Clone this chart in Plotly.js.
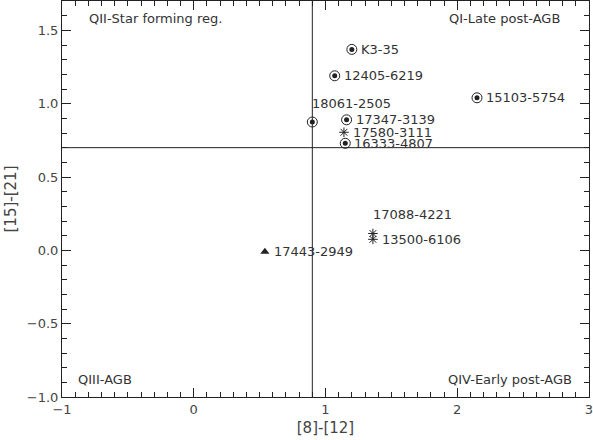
<!DOCTYPE html>
<html>
<head>
<meta charset="utf-8">
<script src="https://cdn.plot.ly/plotly-3.0.1.min.js"></script>
<style>
  html, body { margin: 0; padding: 0; background: #fff; }
  #plot { width: 593px; height: 440px; }
</style>
</head>
<body>
<div id="plot"></div>
<script>
// circled sources (dot inside a ring)
const ringNames = ['K3-35', '12405-6219', '15103-5754', '18061-2505', '17347-3139', '16333-4807'];
const ringX = [1.20, 1.07, 2.15, 0.90, 1.16, 1.15];
const ringY = [1.37, 1.19, 1.04, 0.875, 0.89, 0.73];

// asterisk sources
const starNames = ['17580-3111', '17088-4221', '13500-6106'];
const starX = [1.14, 1.36, 1.36];
const starY = [0.805, 0.115, 0.075];

// triangle source
const triNames = ['17443-2949'];
const triX = [0.54];
const triY = [-0.01];

// quadrant dividers
const xDivide = 0.9;
const yDivide = 0.7;

const ink = '#222';
const txt = '#333';
const font = 'DejaVu Sans, sans-serif';

// labels that sit above their marker instead of to the right
const aboveLabels = ['18061-2505', '17088-4221'];

function labels(names, xs, ys) {
    return names.map((n, i) => {
        let above = aboveLabels.includes(n);
        return {
            text: n, x: xs[i], y: ys[i], xref: 'x', yref: 'y',
            xanchor: 'left', yanchor: 'middle',
            xshift: above ? -2 : 7, yshift: above ? 19 : 0,
            showarrow: false,
            font: {family: font, size: 13, color: txt}
        };
    });
}

let rings = {
    x: ringX, y: ringY,
    mode: 'markers',
    marker: {symbol: 'circle-open', size: 10, color: ink, line: {width: 1, color: ink}},
    hoverinfo: 'skip'
};
let dots = {
    x: ringX, y: ringY,
    mode: 'markers',
    marker: {symbol: 'circle', size: 5, color: ink},
    hoverinfo: 'skip'
};
let stars = {
    x: starX, y: starY,
    mode: 'markers',
    marker: {symbol: 'asterisk-open', size: 8, color: ink, line: {width: 1, color: ink}},
    hoverinfo: 'skip'
};
let tris = {
    x: triX, y: triY,
    mode: 'markers',
    marker: {symbol: 'triangle-up', size: 8, color: ink},
    hoverinfo: 'skip'
};

function axis(range, dtick, minor, title, fmt) {
    return {
        range: range,
        dtick: dtick,
        tick0: 0,
        tickformat: fmt,
        ticks: 'inside',
        ticklen: 9,
        tickcolor: ink,
        tickwidth: 1,
        minor: {ticks: 'inside', ticklen: 5, dtick: minor, tickcolor: ink, tickwidth: 1},
        mirror: 'ticks',
        showline: true,
        linecolor: ink,
        linewidth: 1,
        showgrid: false,
        zeroline: false,
        ticklabeloverflow: 'allow',
        tickfont: {family: font, size: 13, color: '#444'},
        title: {text: title, font: {family: font, size: 15, color: '#444'}, standoff: 6}
    };
}

let quad = (text, x, y, anchor) => ({
    text: text, xref: 'paper', yref: 'paper', x: x, y: y,
    xanchor: anchor, yanchor: 'middle', showarrow: false,
    font: {family: font, size: 13, color: txt}
});

let layout = {
    width: 593, height: 440,
    margin: {l: 62, r: 4, t: 1, b: 43},
    paper_bgcolor: '#fff',
    plot_bgcolor: '#fff',
    showlegend: false,
    xaxis: axis([-1, 3.0001], 1, 0.1, '[8]-[12]', 'd'),
    yaxis: axis([-1, 1.7], 0.5, 0.1, '[15]-[21]', '.1f'),
    shapes: [
        {type: 'line', xref: 'x', yref: 'paper', x0: xDivide, x1: xDivide, y0: 0, y1: 1, line: {color: ink, width: 1}},
        {type: 'line', xref: 'paper', yref: 'y', x0: 0, x1: 1, y0: yDivide, y1: yDivide, line: {color: ink, width: 1}}
    ],
    annotations: [
        quad('QII-Star forming reg.', 0.047, 0.955, 'left'),
        quad('QI-Late post-AGB', 0.948, 0.955, 'right'),
        quad('QIII-AGB', 0.027, 0.045, 'left'),
        quad('QIV-Early post-AGB', 0.972, 0.045, 'right')
    ].concat(labels(ringNames, ringX, ringY), labels(starNames, starX, starY), labels(triNames, triX, triY))
};

Plotly.newPlot('plot', [rings, dots, stars, tris], layout, {staticPlot: true, displayModeBar: false});
</script>
</body>
</html>
